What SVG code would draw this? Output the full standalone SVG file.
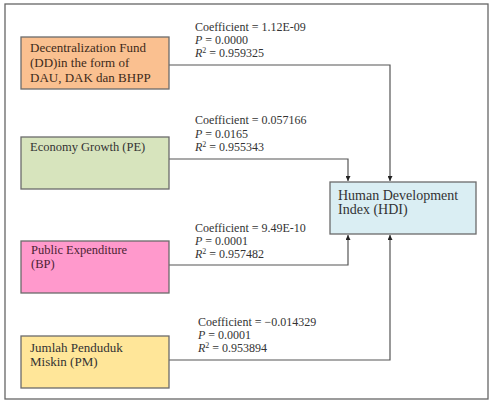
<svg xmlns="http://www.w3.org/2000/svg" width="492" height="402" viewBox="0 0 492 402">
<defs>
<marker id="ah" viewBox="0 0 10 10" refX="10" refY="5" markerWidth="5" markerHeight="5" orient="auto" markerUnits="userSpaceOnUse">
<path d="M0,0 L10,5 L0,10 Z" fill="#222"/>
</marker>
<style>
.box{stroke:#6b6b6b;stroke-width:1.3}
.t{font-family:"Liberation Serif","Times New Roman",serif;font-size:13px;fill:#333}
.l{font-family:"Liberation Serif","Times New Roman",serif;font-size:12px;fill:#333}
.c{fill:none;stroke:#555;stroke-width:1.2}
</style>
</defs>
<rect x="0" y="0" width="492" height="402" fill="#fff"/>
<rect x="5" y="4" width="483" height="395" fill="#fff" stroke="#666" stroke-width="1.3"/>
<g id="connectors">
<path class="c" d="M169,65 H390 V181" marker-end="url(#ah)"/>
<path class="c" d="M169,159 H348 V181" marker-end="url(#ah)"/>
<path class="c" d="M169,265 H348 V235" marker-end="url(#ah)"/>
<path class="c" d="M169,360 H390 V235" marker-end="url(#ah)"/>
</g>
<g id="dd">
<rect class="box" x="21" y="37" width="148" height="52" fill="#FAC090"/>
<text class="t" x="30" y="52" style="fill:#3d2a1a">Decentralization Fund</text>
<text class="t" x="30" y="67" style="fill:#3d2a1a">(DD)in the form of</text>
<text class="t" x="30" y="82" style="fill:#3d2a1a">DAU, DAK dan BHPP</text>
</g>
<g id="pe">
<rect class="box" x="21" y="137" width="148" height="52" fill="#D7E4BD"/>
<text class="t" x="30" y="151" style="font-size:12.5px">Economy Growth (PE)</text>
</g>
<g id="bp">
<rect class="box" x="21" y="241" width="148" height="52" fill="#FF99CC"/>
<text class="t" x="31" y="254" style="fill:#4d1f33;font-size:12.5px">Public Expenditure</text>
<text class="t" x="31" y="268" style="fill:#4d1f33;font-size:12.5px">(BP)</text>
</g>
<g id="pm">
<rect class="box" x="21" y="336" width="148" height="52" fill="#FFE699"/>
<text class="t" x="30" y="352">Jumlah Penduduk</text>
<text class="t" x="30" y="366">Miskin (PM)</text>
</g>
<g id="hdi">
<rect class="box" x="330" y="182" width="146" height="52" fill="#DAEEF3"/>
<text class="t" x="338" y="200" style="font-size:14px">Human Development</text>
<text class="t" x="338" y="214" style="font-size:14px">Index (HDI)</text>
</g>
<g id="labels">
<text class="l" x="195" y="31">Coefficient = 1.12E-09</text>
<text class="l" x="195" y="44"><tspan font-style="italic">P</tspan> = 0.0000</text>
<text class="l" x="195" y="57"><tspan font-style="italic">R</tspan><tspan font-size="8" dy="-4">2</tspan><tspan dy="4"> = 0.959325</tspan></text>
<text class="l" x="195" y="124">Coefficient = 0.057166</text>
<text class="l" x="195" y="138"><tspan font-style="italic">P</tspan> = 0.0165</text>
<text class="l" x="195" y="151"><tspan font-style="italic">R</tspan><tspan font-size="8" dy="-4">2</tspan><tspan dy="4"> = 0.955343</tspan></text>
<text class="l" x="195" y="232">Coefficient = 9.49E-10</text>
<text class="l" x="195" y="245"><tspan font-style="italic">P</tspan> = 0.0001</text>
<text class="l" x="195" y="258"><tspan font-style="italic">R</tspan><tspan font-size="8" dy="-4">2</tspan><tspan dy="4"> = 0.957482</tspan></text>
<text class="l" x="198" y="326">Coefficient = −0.014329</text>
<text class="l" x="198" y="339"><tspan font-style="italic">P</tspan> = 0.0001</text>
<text class="l" x="198" y="352"><tspan font-style="italic">R</tspan><tspan font-size="8" dy="-4">2</tspan><tspan dy="4"> = 0.953894</tspan></text>
</g>
</svg>
